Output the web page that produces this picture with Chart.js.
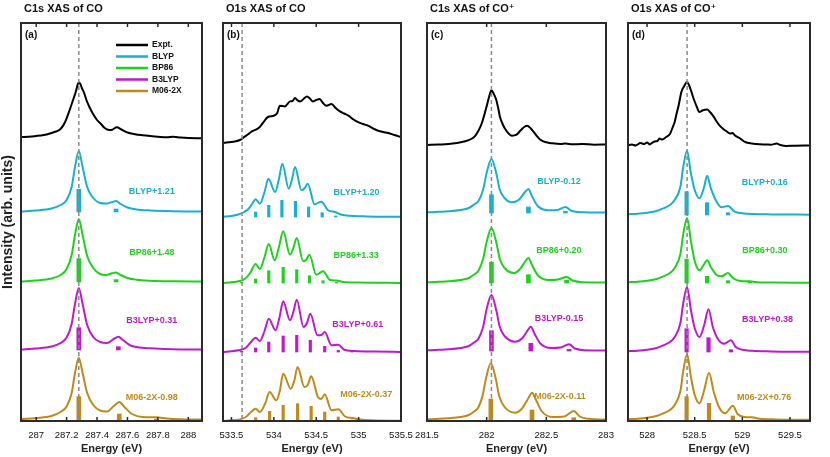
<!DOCTYPE html>
<html>
<head>
<meta charset="utf-8">
<script src="https://cdn.jsdelivr.net/npm/chart.js@4.4.1/dist/chart.umd.min.js"></script>
<style>
  body { margin: 0; background: #fff; width: 830px; height: 457px; position: relative; overflow: hidden; }
  canvas { position: absolute; top: 0; }
</style>
</head>
<body>
<canvas id="panelA" style="left:0px" width="230" height="457"></canvas>
<canvas id="panelB" style="left:193px" width="238" height="457"></canvas>
<canvas id="panelC" style="left:397px" width="239" height="457"></canvas>
<canvas id="panelD" style="left:598px" width="232" height="457"></canvas>
<script>
const methods = ['Expt.', 'BLYP', 'BP86', 'B3LYP', 'M06-2X'];
const colors = ['#000000', '#17b1cf', '#1fd11f', '#bf19cf', '#bf8a1b'];

// (a) C1s XAS of CO  -- [energy eV, intensity above its baseline]
const ticksA = ['287', '287.2', '287.4', '287.6', '287.8', '288'];
const offsetsA = [284, 209, 139, 71, 1];
const shiftsA = ['BLYP+1.21', 'BP86+1.48', 'B3LYP+0.31', 'M06-2X-0.98'];
const exptA = [[286.9,0],[286.95,0.3],[287.0,1],[287.05,2],[287.09,3.5],[287.13,5.5],[287.16,8],[287.19,15],[287.22,27],[287.24,36],[287.26,45],[287.28,55],[287.29,53],[287.30,49],[287.315,44],[287.33,37],[287.35,30],[287.37,24],[287.4,17],[287.42,14],[287.45,9],[287.48,7],[287.5,7.3],[287.53,9.7],[287.56,7.5],[287.6,4.5],[287.65,2.8],[287.7,1.8],[287.75,1],[287.8,0.3],[287.86,-0.3],[287.9,0.3],[287.95,-0.5],[288.0,-1],[288.09,-1.3]];
const blypA = [[286.9,0.5],[287.0,1.5],[287.1,3.5],[287.16,7],[287.2,12],[287.233,25],[287.255,45],[287.28,61],[287.305,45],[287.335,25],[287.375,14],[287.42,9],[287.46,8.5],[287.5,10],[287.525,11],[287.555,8],[287.6,4.5],[287.66,2.5],[287.75,1.5],[287.9,0.8],[288.09,0.5]];
const bp86A = [[286.9,0.5],[287.0,1.5],[287.1,3.5],[287.16,7],[287.2,13],[287.233,27],[287.255,47],[287.28,63],[287.305,47],[287.335,26],[287.375,14],[287.42,8],[287.46,7],[287.5,8.8],[287.525,9.4],[287.555,7],[287.6,4],[287.66,2.3],[287.75,1.3],[287.9,0.7],[288.09,0.4]];
const b3lypA = [[286.9,0.5],[287.0,1.5],[287.1,3.5],[287.16,7],[287.2,12.5],[287.233,26],[287.255,46],[287.28,62],[287.305,46],[287.335,25],[287.375,13],[287.42,8],[287.465,7],[287.51,11],[287.54,13.3],[287.57,10],[287.62,4.5],[287.68,2.5],[287.78,1.5],[287.9,0.8],[288.09,0.5]];
const m062xA = [[286.9,0.8],[287.0,2],[287.1,4],[287.16,8],[287.2,13.5],[287.233,27],[287.255,47],[287.28,62.3],[287.305,47],[287.335,27],[287.375,15],[287.42,9.5],[287.465,8.5],[287.51,14],[287.546,18],[287.58,13],[287.63,6],[287.7,3],[287.79,2.7],[287.86,1.5],[287.95,0.8],[288.09,0.5]];
const sticksA = [
  [[287.28,22.7],[287.525,3]],
  [[287.28,23.4],[287.525,2.4]],
  [[287.28,22.3],[287.54,3.3]],
  [[287.28,23.3],[287.546,6],[287.79,1]]
];

// (b) O1s XAS of CO
const ticksB = ['533.5', '534', '534.5', '535', '535.5'];
const offsetsB = [278, 204, 138, 69, 0];
const shiftsB = ['BLYP+1.20', 'BP86+1.33', 'B3LYP+0.61', 'M06-2X-0.37'];
const exptB = [[533.4,0],[533.47,0.8],[533.54,1.6],[533.6,3],[533.66,6.6],[533.7,9],[533.74,11.6],[533.82,15],[533.87,20],[533.93,26],[534.0,27.3],[534.04,30],[534.07,37.3],[534.13,36.6],[534.19,41.6],[534.22,42],[534.25,45],[534.28,42.6],[534.31,41.6],[534.35,44],[534.39,46.6],[534.43,44],[534.46,41.6],[534.5,43],[534.54,44],[534.58,40],[534.62,37.3],[534.68,39],[534.73,35],[534.78,31.6],[534.83,29.5],[534.88,27.3],[534.94,23.5],[535.0,20.6],[535.05,19],[535.11,17.3],[535.17,14.5],[535.23,12.3],[535.29,11],[535.35,10],[535.42,8],[535.5,6]];
const blypB = [[533.4,0.3],[533.5,1],[533.58,2.5],[533.65,5],[533.7,8],[533.75,14],[533.785,17.7],[533.835,13.3],[533.89,25],[533.935,38.3],[534.015,25],[534.06,38],[534.1,53.3],[534.175,28.3],[534.215,38],[534.25,50],[534.325,26.7],[534.365,29],[534.4,33.3],[534.48,12.7],[534.56,15.3],[534.64,6.7],[534.72,5],[534.8,2.3],[534.9,1.2],[535.1,0.6],[535.5,0.2]];
const bp86B = [[533.4,0],[533.5,0.8],[533.58,1.7],[533.66,4.3],[533.72,10],[533.785,19],[533.835,14],[533.89,26],[533.94,39],[534.01,22.7],[534.06,36],[534.11,51.7],[534.19,28.3],[534.23,35],[534.27,45],[534.345,21.7],[534.38,23],[534.42,28.3],[534.5,8.3],[534.58,11.7],[534.66,3.3],[534.74,2.5],[534.82,1],[535.0,0.4],[535.5,0.1]];
const b3lypB = [[533.4,0],[533.5,0.8],[533.58,1.7],[533.67,4.3],[533.73,10],[533.785,14.3],[533.835,11],[533.89,21],[533.94,33.3],[534.02,21.7],[534.065,34],[534.11,50.7],[534.19,31.7],[534.23,40],[534.27,52.3],[534.35,25],[534.39,29],[534.43,38.3],[534.515,16.7],[534.56,17],[534.6,20],[534.68,6.7],[534.76,7.3],[534.83,2.3],[534.95,1],[535.2,0.4],[535.5,0.1]];
const m062xB = [[533.4,0],[533.5,0.8],[533.58,1.3],[533.67,4],[533.73,9],[533.785,12.3],[533.835,9],[533.9,18],[533.95,29],[534.03,20.7],[534.07,30],[534.11,47.3],[534.2,32.3],[534.24,40],[534.28,54],[534.36,34],[534.4,36],[534.44,44.7],[534.52,24],[534.56,22],[534.6,26.7],[534.68,10.7],[534.76,11.7],[534.84,4.5],[534.93,3],[535.02,1.5],[535.15,0.7],[535.5,0.2]];
const sticksB = [
  [[533.785,5],[533.94,11.7],[534.095,16.7],[534.255,15.7],[534.41,10],[534.57,4.3],[534.73,1]],
  [[533.62,0.7],[533.785,4],[533.94,12.3],[534.11,15.7],[534.27,13.3],[534.42,7.3],[534.58,2.3],[534.74,0.7]],
  [[533.62,0.7],[533.785,4],[533.94,10],[534.11,16],[534.27,16.7],[534.43,11.7],[534.6,5.7],[534.76,1.7],[534.92,0.7]],
  [[533.785,3.3],[533.95,9.7],[534.11,15.7],[534.28,17.3],[534.44,14.7],[534.6,9],[534.76,4],[534.92,1]]
];

// (c) C1s XAS of CO+
const ticksC = ['281.5', '282', '282.5', '283'];
const offsetsC = [276, 208, 138, 70, 1];
const shiftsC = ['BLYP-0.12', 'BP86+0.20', 'B3LYP-0.15', 'M06-2X-0.11'];
const exptC = [[281.5,0],[281.6,0.5],[281.68,1],[281.75,2],[281.82,3.7],[281.87,6],[281.9,8.7],[281.93,14],[281.96,22],[281.98,30],[282.0,38.7],[282.02,48],[282.04,54.7],[282.06,51],[282.08,45.3],[282.1,35],[282.11,28.7],[282.13,22],[282.15,17],[282.18,12],[282.21,9.3],[282.25,10.3],[282.29,15.3],[282.32,18.5],[282.34,19.3],[282.37,16.5],[282.39,13.7],[282.42,9],[282.45,5.3],[282.5,2.7],[282.55,1.7],[282.62,1],[282.66,1.5],[282.72,0.7],[282.8,1],[282.9,0.3],[283.0,0.5]];
const blypC = [[281.5,0.7],[281.6,1.2],[281.68,1.7],[281.78,3],[281.85,5],[281.9,9],[281.93,11.7],[281.97,23.3],[282.0,40],[282.04,54],[282.08,40],[282.11,23.3],[282.15,15],[282.21,10.7],[282.27,13.3],[282.32,20.7],[282.35,24],[282.38,16.7],[282.43,6.7],[282.52,2.7],[282.6,3.3],[282.66,6],[282.71,2.3],[282.8,0.8],[283.0,0.5]];
const bp86C = [[281.5,0.7],[281.6,1.2],[281.68,1.7],[281.78,3],[281.85,5],[281.9,9],[281.93,12],[281.97,24],[282.0,41],[282.04,55],[282.08,41],[282.11,24],[282.15,15],[282.23,10],[282.28,14],[282.32,21],[282.35,25],[282.38,18],[282.43,7.5],[282.52,3],[282.6,3.5],[282.67,6],[282.72,2.5],[282.8,0.8],[283.0,0.5]];
const b3lypC = [[281.5,0.7],[281.6,1.2],[281.68,1.7],[281.78,3],[281.85,5],[281.9,9],[281.93,12],[281.97,24],[282.0,42],[282.04,56],[282.08,41],[282.11,24],[282.15,15],[282.24,9.3],[282.3,13],[282.34,20],[282.37,24.3],[282.4,17.5],[282.45,7.5],[282.54,3],[282.62,3.5],[282.69,6.7],[282.74,2.5],[282.82,0.8],[283.0,0.5]];
const m062xC = [[281.5,0.7],[281.6,1.2],[281.68,1.8],[281.78,3],[281.85,5],[281.9,9],[281.93,12.5],[281.965,24],[281.995,42],[282.035,56.7],[282.075,42],[282.105,24],[282.15,13],[282.24,7.3],[282.3,12],[282.35,22],[282.38,27.3],[282.41,21],[282.46,9],[282.55,3],[282.65,3.5],[282.73,9],[282.78,3.5],[282.86,1.2],[283.0,0.5]];
const sticksC = [
  [[282.04,18.3],[282.35,6],[282.66,1.7]],
  [[282.04,20.7],[282.35,8.3],[282.67,2.7]],
  [[282.04,20.3],[282.37,7.7],[282.69,1.7]],
  [[282.035,21],[282.38,10],[282.73,2.3]]
];

// (d) O1s XAS of CO+
const ticksD = ['528', '528.5', '529', '529.5'];
const offsetsD = [275, 206, 138, 69, 1];
const shiftsD = ['BLYP+0.16', 'BP86+0.30', 'B3LYP+0.38', 'M06-2X+0.76'];
const exptD = [[527.8,0.7],[527.84,1.5],[527.88,0.5],[527.93,3],[527.97,2],[528.0,3.5],[528.03,1.5],[528.05,3],[528.08,4.5],[528.11,5],[528.13,7.4],[528.16,6.5],[528.2,9],[528.24,12],[528.27,19],[528.29,24],[528.31,32.4],[528.33,40],[528.36,54],[528.39,60],[528.42,64],[528.44,61],[528.46,55.7],[528.49,47],[528.52,39.7],[528.55,34],[528.58,35.5],[528.63,36.4],[528.66,34],[528.69,30.7],[528.72,26],[528.76,20.7],[528.8,17],[528.83,15],[528.87,12.5],[528.9,13],[528.92,10.7],[528.97,8],[529.03,4],[529.1,2.5],[529.18,1.7],[529.25,1.5],[529.3,1.3],[529.36,2.5],[529.4,1],[529.46,0],[529.55,0.3],[529.71,0.5]];
const blypD = [[527.8,0.7],[527.9,1.3],[528.0,2.3],[528.1,4],[528.17,6.7],[528.24,10],[528.29,15],[528.35,28.3],[528.38,48.3],[528.42,64.3],[528.46,41.7],[528.5,25],[528.55,16.7],[528.6,28.3],[528.63,39.3],[528.67,26.7],[528.73,13.3],[528.78,7.7],[528.85,9],[528.92,3.3],[529.0,1.8],[529.11,1],[529.3,0.6],[529.71,0.3]];
const bp86D = [[527.8,0.7],[527.9,1.3],[528.0,2.3],[528.1,4],[528.17,6.7],[528.24,10],[528.29,15],[528.35,29],[528.38,49],[528.42,65],[528.46,42],[528.5,22],[528.55,12.7],[528.6,19],[528.63,22.7],[528.67,16],[528.73,8],[528.78,6.7],[528.85,10],[528.9,5],[528.98,2],[529.08,1.7],[529.15,0.8],[529.3,0.5],[529.71,0.3]];
const b3lypD = [[527.8,0.7],[527.9,1.3],[528.0,2.3],[528.1,4],[528.17,6.7],[528.24,10],[528.29,15],[528.35,29],[528.38,49],[528.42,65],[528.46,42],[528.5,24],[528.55,15],[528.6,27],[528.645,42.7],[528.69,25],[528.75,12],[528.81,8.3],[528.88,11.7],[528.93,5],[529.0,2.3],[529.1,1.2],[529.3,0.6],[529.71,0.3]];
const m062xD = [[527.8,0.7],[527.9,1.3],[528.0,2.3],[528.1,4],[528.17,6.7],[528.24,10],[528.29,15],[528.35,29],[528.38,49],[528.42,65.7],[528.46,43],[528.5,25],[528.55,16.7],[528.6,30],[528.65,47.3],[528.7,28],[528.76,12],[528.82,6.7],[528.9,14.3],[528.95,6],[529.02,3],[529.1,2.7],[529.18,1.2],[529.35,0.6],[529.71,0.3]];
const sticksD = [
  [[528.415,23.3],[528.63,12.3],[528.85,2.3]],
  [[528.415,24],[528.63,6.7],[528.85,2.3],[529.08,0.7]],
  [[528.415,23.3],[528.645,14.3],[528.88,2.3]],
  [[528.415,23.3],[528.65,16.7],[528.9,4]]
];

Chart.defaults.font.family = "'Liberation Sans', Arial, 'DejaVu Sans', sans-serif";
Chart.defaults.color = '#222';

function toPoints(pairs, off) {
  return pairs.map(p => ({ x: p[0], y: p[1] + off }));
}
function toSticks(pairs, off) {
  return pairs.map(p => ({ x: p[0], y: [off, off + p[1]] }));
}

function makePanel(id, p) {
  const datasets = [];
  p.curves.forEach((c, i) => {
    datasets.push({
      type: 'line', data: toPoints(c, p.offsets[i]), borderColor: colors[i],
      borderWidth: 2, pointRadius: 0, cubicInterpolationMode: 'monotone', fill: false
    });
  });
  p.sticks.forEach((s, i) => {
    datasets.push({
      type: 'bar', data: toSticks(s, p.offsets[i + 1]), backgroundColor: colors[i + 1],
      barThickness: p.barWidth, grouped: false, borderWidth: 0
    });
  });

  const decor = {
    id: 'decor',
    afterDatasetsDraw(chart) {
      const ctx = chart.ctx;
      const a = chart.chartArea;
      const xs = chart.scales.x, ys = chart.scales.y;
      ctx.save();

      // method + shift labels
      ctx.font = "bold 9px 'Liberation Sans', Arial, sans-serif";
      ctx.textAlign = 'center';
      ctx.textBaseline = 'middle';
      p.shifts.forEach((t, i) => {
        ctx.fillStyle = colors[i + 1];
        ctx.fillText(t, xs.getPixelForValue(p.labelAt[i][0]), ys.getPixelForValue(p.offsets[i + 1] + p.labelAt[i][1]));
      });

      // reference line
      ctx.strokeStyle = '#8a8a8a';
      ctx.lineWidth = 1.5;
      ctx.setLineDash([4, 3]);
      const rx = xs.getPixelForValue(p.refE);
      ctx.beginPath();
      ctx.moveTo(rx, a.top);
      ctx.lineTo(rx, a.bottom);
      ctx.stroke();
      ctx.setLineDash([]);

      // frame and inward ticks
      ctx.strokeStyle = '#2a2a2a';
      ctx.lineWidth = 2;
      ctx.strokeRect(a.left, a.top, a.right - a.left, a.bottom - a.top);
      ctx.lineWidth = 1.5;
      xs.ticks.forEach(t => {
        const px = xs.getPixelForValue(t.value);
        if (px < a.left + 2 || px > a.right - 2) return;
        ctx.beginPath();
        ctx.moveTo(px, a.top); ctx.lineTo(px, a.top + 4);
        ctx.moveTo(px, a.bottom); ctx.lineTo(px, a.bottom - 4);
        ctx.stroke();
      });

      // panel title and tag
      ctx.fillStyle = '#111';
      ctx.textAlign = 'left';
      ctx.font = "bold 11px 'Liberation Sans', Arial, 'DejaVu Sans', sans-serif";
      ctx.fillText(p.title, a.left + 3, 9);
      ctx.font = "bold 10px 'Liberation Sans', Arial, sans-serif";
      ctx.fillText(p.tag, a.left + 4, a.top + 12);

      // legend (panel a only)
      if (p.legend) {
        ctx.font = "bold 8.5px 'Liberation Sans', Arial, sans-serif";
        methods.forEach((m, i) => {
          const y = a.top + 22 + i * 11.5;
          ctx.strokeStyle = colors[i];
          ctx.lineWidth = 2.5;
          ctx.beginPath();
          ctx.moveTo(a.left + 95, y); ctx.lineTo(a.left + 127, y);
          ctx.stroke();
          ctx.fillStyle = '#111';
          ctx.fillText(m, a.left + 131, y);
        });
      }
      ctx.restore();
    }
  };

  return new Chart(document.getElementById(id), {
    type: 'line',
    data: { datasets },
    options: {
      responsive: false,
      animation: false,
      events: [],
      layout: { padding: { left: p.pad[0], right: p.pad[1], top: 23, bottom: 0 } },
      plugins: { legend: { display: false }, tooltip: { enabled: false }, title: { display: false } },
      scales: {
        x: {
          type: 'linear', min: p.xMin, max: p.xMax, offset: false,
          grid: { display: false, drawTicks: false },
          border: { display: false },
          afterBuildTicks: s => { s.ticks = p.ticks.map(t => ({ value: Number(t) })); },
          afterFit: s => { s.height = 36; },
          ticks: {
            autoSkip: false, maxRotation: 0, padding: 9, color: '#111',
            font: { size: 9.5 },
            callback: (v, i) => p.ticks[i]
          },
          title: {
            display: true, text: 'Energy (eV)', color: '#222',
            font: { size: 11, weight: 'bold' }, padding: { top: 0, bottom: 1.5 }
          }
        },
        y: {
          min: 0, max: 398,
          display: p.yTitle,
          grid: { display: false, drawTicks: false },
          border: { display: false },
          ticks: { display: false },
          afterFit: s => { s.width = p.yTitle ? 21 : 0; },
          title: {
            display: true, text: 'Intensity (arb. units)', color: '#222',
            font: { size: 14, weight: 'bold' }, padding: { top: 0, bottom: 0 }
          }
        }
      }
    },
    plugins: [decor]
  });
}

makePanel('panelA', {
  xMin: 286.9, xMax: 288.09, ticks: ticksA, offsets: offsetsA, refE: 287.28,
  curves: [exptA, blypA, bp86A, b3lypA, m062xA], sticks: sticksA, barWidth: 4,
  shifts: shiftsA, labelAt: [[287.76, 20], [287.76, 29], [287.76, 29], [287.76, 22]],
  title: 'C1s XAS of CO', tag: '(a)', legend: true, yTitle: true, pad: [0, 28]
});
makePanel('panelB', {
  xMin: 533.4, xMax: 535.5, ticks: ticksB, offsets: offsetsB, refE: 533.625,
  curves: [exptB, blypB, bp86B, b3lypB, m062xB], sticks: sticksB, barWidth: 2.5,
  shifts: shiftsB, labelAt: [[534.975, 24], [534.97, 27.6], [534.99, 27.7], [535.09, 26.4]],
  title: 'O1s XAS of CO', tag: '(b)', legend: false, yTitle: false, pad: [30, 30]
});
makePanel('panelC', {
  xMin: 281.5, xMax: 283, ticks: ticksC, offsets: offsetsC, refE: 282.04,
  curves: [exptC, blypC, bp86C, b3lypC, m062xC], sticks: sticksC, barWidth: 4,
  shifts: shiftsC, labelAt: [[282.606, 31], [282.606, 32.6], [282.606, 32], [282.615, 23.3]],
  title: 'C1s XAS of CO\u207A', tag: '(c)', legend: false, yTitle: false, pad: [30, 30]
});
makePanel('panelD', {
  xMin: 527.8, xMax: 529.71, ticks: ticksD, offsets: offsetsD, refE: 528.42,
  curves: [exptD, blypD, bp86D, b3lypD, m062xD], sticks: sticksD, barWidth: 3.5,
  shifts: shiftsD, labelAt: [[529.236, 32.7], [529.236, 32.6], [529.264, 32.7], [529.229, 22.3]],
  title: 'O1s XAS of CO\u207A', tag: '(d)', legend: false, yTitle: false, pad: [30, 20]
});
</script>
</body>
</html>
